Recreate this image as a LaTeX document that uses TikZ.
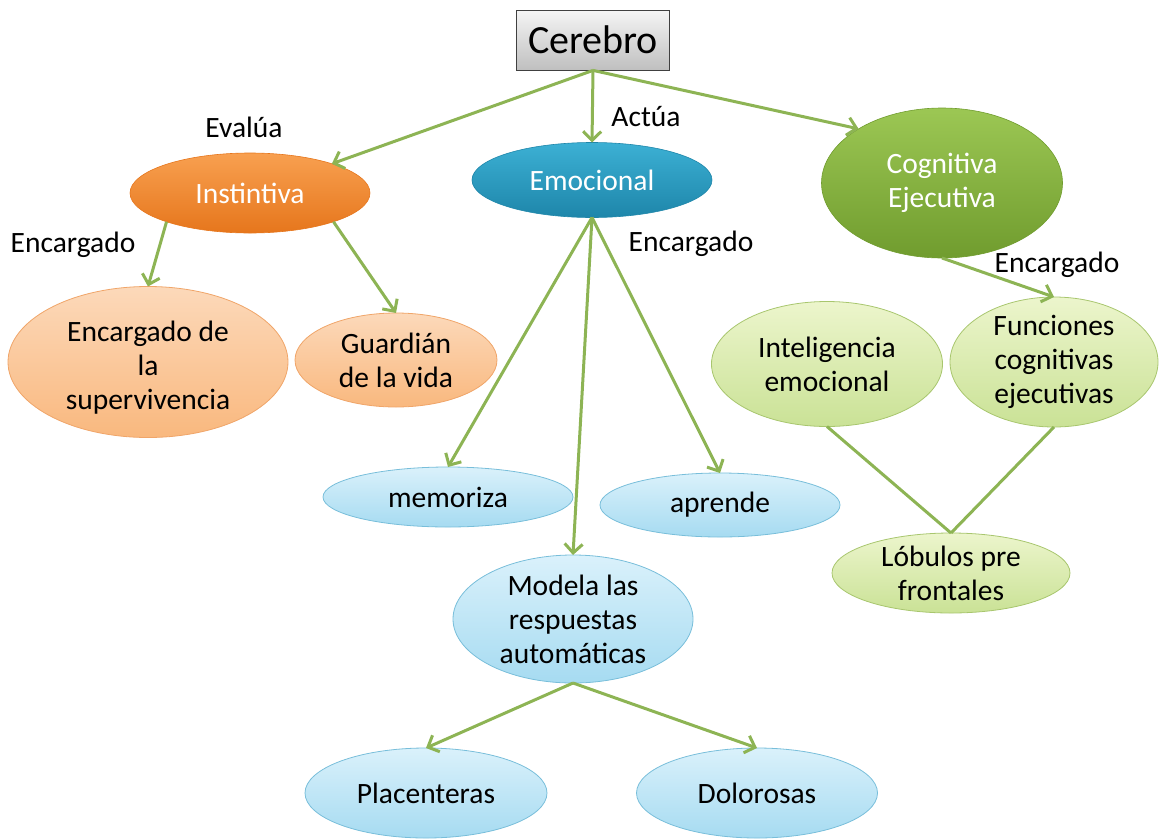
\documentclass[tikz,border=0pt]{standalone}
\usepackage{fontspec}
\setmainfont{Carlito}
\usetikzlibrary{shapes.geometric,arrows.meta}
\definecolor{lineG}{RGB}{141,180,84}
\definecolor{oTop}{RGB}{248,160,80}
\definecolor{oBot}{RGB}{230,118,28}
\definecolor{bTop}{RGB}{60,176,212}
\definecolor{bBot}{RGB}{30,134,170}
\definecolor{gTop}{RGB}{156,199,84}
\definecolor{gBot}{RGB}{112,156,46}
\definecolor{loTop}{RGB}{252,217,186}
\definecolor{loBot}{RGB}{249,184,126}
\definecolor{loEdge}{RGB}{240,165,105}
\definecolor{lbTop}{RGB}{218,241,251}
\definecolor{lbBot}{RGB}{166,219,241}
\definecolor{lbEdge}{RGB}{120,190,218}
\definecolor{lgTop}{RGB}{236,245,204}
\definecolor{lgBot}{RGB}{202,226,150}
\definecolor{lgEdge}{RGB}{168,198,110}
\begin{document}
\begin{tikzpicture}[x=1pt,y=-1pt,
  txt/.style={font=\fontsize{29.5}{34}\selectfont, align=center, inner sep=0pt, text=black},
  wtxt/.style={txt, text=white},
  ell/.style={ellipse, inner sep=0pt, outer sep=0pt},
  darkO/.style={ell, top color=oTop, bottom color=oBot, draw=oBot, line width=0.6pt},
  darkB/.style={ell, top color=bTop, bottom color=bBot, draw=bBot, line width=0.6pt},
  darkG/.style={ell, top color=gTop, bottom color=gBot, draw=gBot, line width=0.6pt},
  lightO/.style={ell, top color=loTop, bottom color=loBot, draw=loEdge, line width=0.8pt},
  lightB/.style={ell, top color=lbTop, bottom color=lbBot, draw=lbEdge, line width=0.8pt},
  lightG/.style={ell, top color=lgTop, bottom color=lgBot, draw=lgEdge, line width=0.8pt},
  cbox/.style={rectangle, top color=white!96!black, bottom color=black!25, draw=black!75, line width=0.8pt, inner sep=0pt},
  conn/.style={draw=lineG, line width=3pt, -{Straight Barb[length=9pt,width=18pt]}},
  plain/.style={draw=lineG, line width=3pt},
]
\useasboundingbox (0,0) rectangle (1165,839);

% nodes
\node[cbox, minimum width=153, minimum height=60, font=\fontsize{40}{46}\selectfont] (cer) at (593,40) {Cerebro};

\node[darkO, minimum width=240, minimum height=80] (ins) at (250,193) {};
\node[wtxt] (insT) at (ins) {Instintiva};
\node[darkB, minimum width=240, minimum height=75] (emo) at (592,180) {};
\node[wtxt] (emoT) at (emo) {Emocional};
\node[darkG, minimum width=241, minimum height=150] (cog) at (942,183) {};
\node[wtxt] (cogT) at (cog) {Cognitiva\\Ejecutiva};

\node[lightO, minimum width=280, minimum height=151] (sup) at (148,362) {};
\node[txt] (supT) at ([yshift=-6]sup.center) {Encargado de\\la\\supervivencia};
\node[lightO, minimum width=202, minimum height=94] (gua) at (396,360) {};
\node[txt] (guaT) at (gua) {Guardián\\de la vida};

\node[lightB, minimum width=250, minimum height=60] (mem) at (448,497) {};
\node[txt] (memT) at (mem) {memoriza};
\node[lightB, minimum width=240, minimum height=64] (apr) at (720,505) {};
\node[txt] (aprT) at (apr) {aprende};
\node[lightB, minimum width=240, minimum height=128] (mod) at (573,619) {};
\node[txt] (modT) at (mod) {Modela las\\respuestas\\automáticas};
\node[lightB, minimum width=242, minimum height=90] (pla) at (426,793) {};
\node[txt] (plaT) at (pla) {Placenteras};
\node[lightB, minimum width=241, minimum height=90] (dol) at (757,793) {};
\node[txt] (dolT) at (dol) {Dolorosas};

\node[lightG, minimum width=231, minimum height=125] (int) at (827,364) {};
\node[txt] (intT) at (int) {Inteligencia\\emocional};
\node[lightG, minimum width=208, minimum height=130] (fun) at (1054,362) {};
\node[txt] (funT) at (fun) {Funciones\\cognitivas\\ejecutivas};
\node[lightG, minimum width=238, minimum height=80] (lob) at (951,573) {};
\node[txt] (lobT) at (lob) {Lóbulos pre\\frontales};

% labels
\node[txt] (lEva) at (244,127) {Evalúa};
\node[txt] (lAct) at (646,117) {Actúa};
\node[txt] (lEnc1) at (73,245) {Encargado};
\node[txt] (lEnc2) at (691,244) {Encargado};
\node[txt] (lEnc3) at (1057,265) {Encargado};

% connectors
\draw[conn] (cer.south) -- (ins);
\draw[conn] (cer.south) -- (emo.north);
\draw[conn] (cer.south) -- (cog.147);
\draw[conn] (ins.199) -- (sup.north);
\draw[conn] (ins.341) -- (gua.north);
\draw[conn] (emo.south) -- (mem.north);
\draw[conn] (emo.south) -- (mod.north);
\draw[conn] (emo.south) -- (apr.north);
\draw[conn] (cog.south) -- (fun.north);
\draw[plain] (int.south) -- (lob.north);
\draw[plain] (fun.south) -- (lob.north);
\draw[conn] (mod.south) -- (pla.north);
\draw[conn] (mod.south) -- (dol.north);
\end{tikzpicture}
\end{document}
